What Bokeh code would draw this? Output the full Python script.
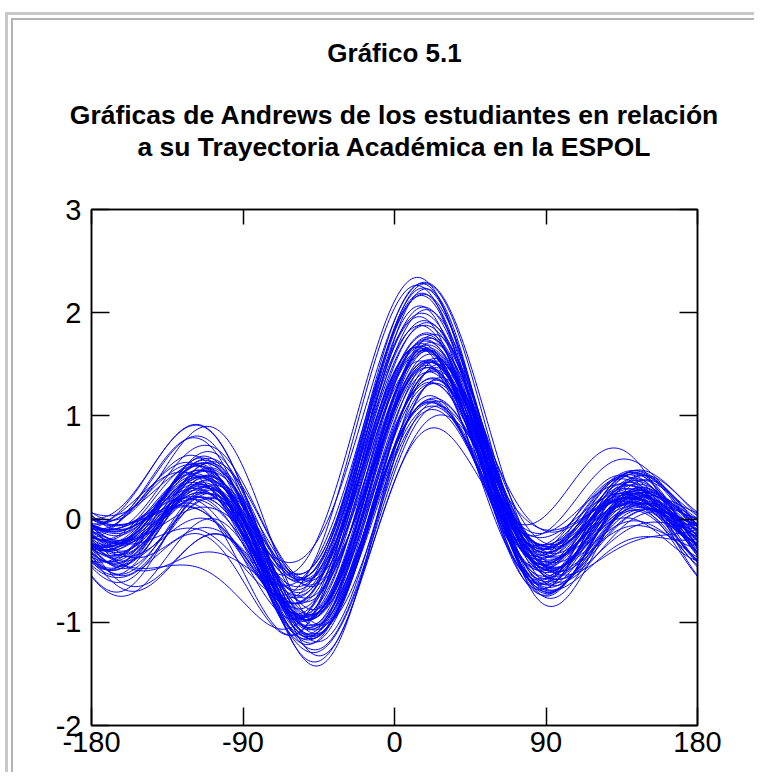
import numpy as np
from bokeh.plotting import figure
from bokeh.models import Title, LinearAxis, FixedTicker, Range1d
from bokeh.embed import file_html
from bokeh.resources import INLINE

# --- data: seven standardized academic variables per student (estimated) ---
var1 = [0.12, 0.35, -0.05, 0.22, 0.18, 0.40, 0.02, 0.15, 0.28, -0.10,
        0.20, 0.08, 0.33, 0.16, -0.02, 0.25, 0.10, 0.45, 0.05, 0.19,
        0.30, -0.08, 0.14, 0.22, 0.11, 0.38, 0.00, 0.26, 0.17, 0.07,
        0.31, -0.12, 0.21, 0.13, 0.42, 0.04, 0.24, 0.09, 0.36, 0.18,
        -0.04, 0.27, 0.15, 0.06, 0.33, 0.20, -0.06, 0.29, 0.12, 0.23,
        0.03, 0.39, 0.16, 0.10, 0.25, -0.01, 0.34, 0.14, 0.21, 0.08,
        0.19, 0.06, 0.31, 0.24, -0.03, 0.15, 0.37, 0.11, 0.27, 0.02,
        0.22, 0.13, 0.44, 0.09, 0.18]
var2 = [0.25, 0.10, 0.38, 0.20, 0.31, 0.15, 0.27, 0.05, 0.22, 0.40,
        0.18, 0.29, 0.12, 0.35, 0.24, 0.08, 0.30, 0.21, 0.44, 0.16,
        0.26, 0.33, 0.02, 0.28, 0.19, 0.23, 0.37, 0.13, 0.25, 0.32,
        0.09, 0.21, 0.34, 0.27, 0.14, 0.41, 0.20, 0.30, 0.17, 0.24,
        0.36, 0.11, 0.26, 0.19, 0.29, 0.07, 0.23, 0.39, 0.22, 0.15,
        0.31, 0.18, 0.28, 0.04, 0.25, 0.34, 0.20, 0.27, 0.12, 0.30,
        0.21, 0.33, 0.14, 0.26, 0.38, 0.19, 0.10, 0.29, 0.23, 0.35,
        0.16, 0.27, 0.06, 0.32, 0.24]
var3 = [0.30, 0.60, 0.00, 0.46, 0.14, 0.80, 0.24, 0.36, -0.10, 0.52,
        0.28, 0.06, 0.70, 0.20, 0.42, -0.10, 0.34, 0.75, 0.10, 0.26,
        0.54, 0.18, -0.06, 0.40, 0.32, 0.64, 0.08, 0.48, 0.22, 0.38,
        0.02, 0.30, 0.74, 0.16, 0.44, -0.14, 0.58, 0.26, 0.36, 0.12,
        0.50, 0.22, 0.40, -0.02, 0.66, 0.32, 0.14, 0.42, 0.28, 0.56,
        -0.08, 0.46, 0.20, 0.34, 0.10, 0.62, 0.24, 0.04, 0.38, 0.30,
        0.35, 0.12, 0.68, 0.28, 0.45, -0.04, 0.52, 0.22, 0.60, 0.15,
        0.40, 0.05, 0.33, 0.71, 0.26]
var4 = [0.45, 0.38, 0.52, 0.30, 0.47, 0.41, 0.60, 0.35, 0.43, 0.28,
        0.50, 0.44, 0.33, 0.56, 0.40, 0.48, 0.25, 0.42, 0.53, 0.37,
        0.46, 0.31, 0.58, 0.43, 0.39, 0.49, 0.36, 0.62, 0.41, 0.34,
        0.55, 0.45, 0.29, 0.40, 0.51, 0.38, 0.47, 0.32, 0.44, 0.57,
        0.36, 0.48, 0.42, 0.54, 0.27, 0.46, 0.40, 0.50, 0.35, 0.43,
        0.49, 0.33, 0.45, 0.59, 0.41, 0.37, 0.52, 0.44, 0.30, 0.47,
        0.42, 0.51, 0.36, 0.47, 0.33, 0.55, 0.40, 0.45, 0.29, 0.50,
        0.38, 0.58, 0.43, 0.35, 0.48]
var5 = [0.33, 0.57, 0.10, 0.58, 0.22, 0.63, 0.42, 0.23, 0.16, 0.66,
        0.27, 0.28, 0.55, 0.17, 0.53, 0.11, 0.54, 0.59, 0.16, 0.41,
        0.51, 0.12, 0.16, 0.53, 0.30, 0.58, 0.21, 0.53, 0.20, 0.57,
        0.22, 0.27, 0.68, 0.26, 0.47, -0.01, 0.63, 0.33, 0.33, 0.33,
        0.35, 0.40, 0.36, 0.22, 0.75, 0.35, 0.20, 0.51, 0.38, 0.36,
        0.22, 0.43, 0.14, 0.49, 0.22, 0.66, 0.34, 0.16, 0.47, 0.34,
        0.39, 0.24, 0.60, 0.31, 0.48, 0.14, 0.52, 0.28, 0.55, 0.20,
        0.44, 0.18, 0.36, 0.63, 0.30]
var6 = [0.40, 0.50, 0.35, 0.45, 0.58, 0.30, 0.43, 0.48, 0.38, 0.33,
        0.47, 0.36, 0.55, 0.41, 0.28, 0.52, 0.44, 0.39, 0.60, 0.34,
        0.42, 0.49, 0.37, 0.31, 0.54, 0.45, 0.40, 0.26, 0.46, 0.51,
        0.38, 0.56, 0.43, 0.48, 0.33, 0.41, 0.29, 0.53, 0.44, 0.36,
        0.50, 0.39, 0.45, 0.62, 0.35, 0.42, 0.47, 0.32, 0.55, 0.40,
        0.44, 0.37, 0.52, 0.30, 0.46, 0.41, 0.57, 0.34, 0.43, 0.49,
        0.45, 0.38, 0.52, 0.41, 0.57, 0.33, 0.48, 0.36, 0.54, 0.43,
        0.31, 0.50, 0.46, 0.59, 0.39]
var7 = [0.36, 0.42, 0.30, 0.48, 0.33, 0.40, 0.25, 0.38, 0.45, 0.31,
        0.39, 0.28, 0.44, 0.35, 0.50, 0.32, 0.41, 0.27, 0.37, 0.46,
        0.34, 0.43, 0.38, 0.29, 0.47, 0.36, 0.40, 0.33, 0.52, 0.30,
        0.41, 0.35, 0.26, 0.44, 0.37, 0.49, 0.32, 0.39, 0.28, 0.43,
        0.38, 0.31, 0.46, 0.34, 0.40, 0.24, 0.42, 0.36, 0.45, 0.33,
        0.29, 0.44, 0.37, 0.41, 0.35, 0.48, 0.30, 0.39, 0.34, 0.42,
        0.33, 0.40, 0.36, 0.45, 0.29, 0.42, 0.38, 0.31, 0.47, 0.35,
        0.43, 0.27, 0.39, 0.34, 0.41]

x_ticks = [-180, -90, 0, 90, 180]
y_ticks = [-2, -1, 0, 1, 2, 3]

title_main = "Gráfico 5.1"
title_line1 = "Gráficas de Andrews de los estudiantes en relación"
title_line2 = "a su Trayectoria Académica en la ESPOL"

# --- Andrews curves ---
deg = np.arange(-180, 181, 1)
t = np.radians(deg)
xs, ys = [], []
for a1, a2, a3, a4, a5, a6, a7 in zip(var1, var2, var3, var4, var5, var6, var7):
    f = (a1 / np.sqrt(2) + a2 * np.sin(t) + a3 * np.cos(t)
         + a4 * np.sin(2 * t) + a5 * np.cos(2 * t)
         + a6 * np.sin(3 * t) + a7 * np.cos(3 * t))
    xs.append(deg.tolist())
    ys.append(f.tolist())

FONT = "Liberation Sans"

p = figure(width=754, height=772, x_range=Range1d(-180, 180), y_range=Range1d(-2, 3),
           output_backend="svg", toolbar_location=None,
           min_border_left=91, min_border_right=57, min_border_bottom=47, min_border_top=209)
p.background_fill_color = "white"
p.border_fill_color = None
p.xgrid.visible = False
p.ygrid.visible = False
p.outline_line_color = "black"
p.outline_line_width = 1.5
p.styles = {"box-shadow": ("inset 5px 12px 0 0 white, inset 8px 15px 0 0 #c8c8c8, "
                           "inset 11px 18px 0 0 white, inset 13px 20px 0 0 #b4b4b4")}

p.multi_line(xs, ys, line_color="#0000ff", line_width=1)

def style_axis(ax, ticks, size, standoff, tick_in, show_labels=True):
    ax.ticker = FixedTicker(ticks=ticks)
    ax.major_tick_in = tick_in
    ax.major_tick_out = 0
    ax.minor_tick_line_color = None
    ax.major_tick_line_color = "black"
    ax.major_tick_line_width = 1.5
    ax.axis_line_color = "black"
    ax.axis_line_width = 1.5
    ax.major_label_text_font = FONT
    ax.major_label_text_color = "black"
    ax.major_label_text_font_size = size
    ax.major_label_standoff = standoff
    if show_labels:
        ax.major_label_overrides = {tk: str(tk) for tk in ticks}
    else:
        ax.major_label_overrides = {tk: "" for tk in ticks}

style_axis(p.yaxis[0], y_ticks, "29px", 10, 18)
style_axis(p.xaxis[0], x_ticks, "29px", 6, 18)

right_ax = LinearAxis()
style_axis(right_ax, y_ticks, "10px", 0, 18, show_labels=False)
p.add_layout(right_ax, "right")
top_ax = LinearAxis()
style_axis(top_ax, x_ticks, "10px", 0, 15, show_labels=False)
p.add_layout(top_ax, "above")

# spacer between the frame and the heading block
p.add_layout(Title(text=" ", text_font=FONT, text_font_size="10px", standoff=35), "above")
for txt, size, standoff in [(title_line2, "26.5px", 0), (title_line1, "26.5px", 0), (title_main, "26px", 59)]:
    p.add_layout(Title(text=txt, align="center", text_font=FONT, text_font_size=size,
                       text_font_style="bold", text_color="black", standoff=standoff), "above")

open("out.html", "w").write(file_html(p, INLINE))
